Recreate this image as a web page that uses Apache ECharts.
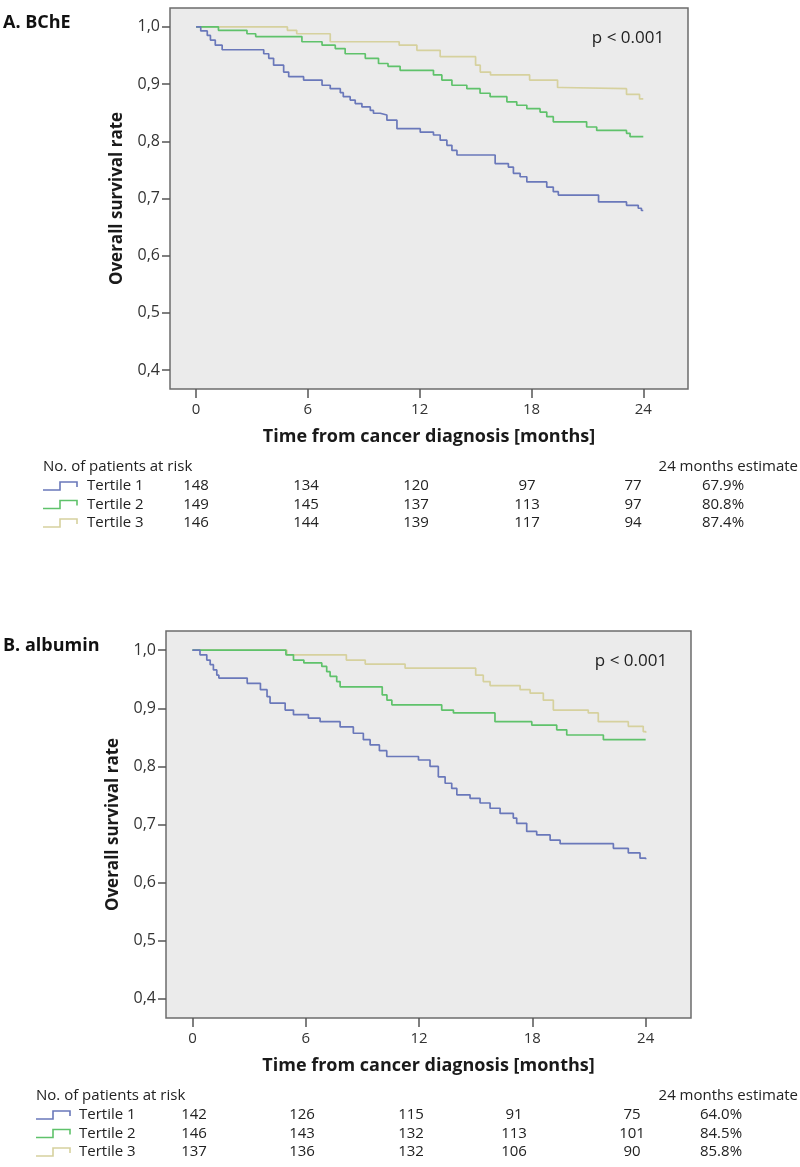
<!DOCTYPE html>
<html><head><meta charset="utf-8">
<script src="https://cdn.jsdelivr.net/npm/echarts@6/dist/echarts.min.js"></script>
<style>html,body{margin:0;padding:0;background:#fff}#c{width:800px;height:1167px}</style>
</head><body><div id="c"></div>
<script>
// ---------- data ----------
const xTicks = [0, 6, 12, 18, 24];
const yTicks = [0.4, 0.5, 0.6, 0.7, 0.8, 0.9, 1.0];
const groups = ['Tertile 1', 'Tertile 2', 'Tertile 3'];
const colors = ['#6a78ba', '#5fc26b', '#d6d19e'];

// Panel A: BChE
const A_t1_time = [0,0.25,0.6,0.77,1.03,1.4,3.63,3.9,4.16,4.7,4.97,5.77,6.76,7.2,7.74,7.9,8.27,8.54,8.9,9.35,9.52,9.88,10.24,10.78,12.03,12.74,13.1,13.46,13.73,14.0,16.05,16.76,17.03,17.39,17.75,18.82,19.17,19.44,21.6,23.1,23.73,23.9,24];
const A_t1_surv = [1,0.993,0.985,0.977,0.968,0.960,0.953,0.945,0.933,0.921,0.913,0.907,0.898,0.892,0.885,0.878,0.872,0.866,0.860,0.854,0.849,0.846,0.837,0.822,0.816,0.811,0.802,0.793,0.784,0.776,0.761,0.755,0.744,0.738,0.729,0.720,0.712,0.706,0.694,0.688,0.683,0.679,0.679];
const A_t2_time = [0,1.2,2.73,3.2,5.68,6.76,7.47,8.0,9.08,9.79,10.3,10.95,12.74,13.19,13.73,14.53,15.24,15.78,16.68,17.21,17.75,18.46,18.82,19.17,20.96,21.5,23.1,23.29,24];
const A_t2_surv = [1,0.994,0.988,0.983,0.974,0.968,0.962,0.953,0.945,0.936,0.931,0.924,0.916,0.907,0.898,0.892,0.884,0.878,0.869,0.863,0.857,0.851,0.843,0.834,0.825,0.819,0.814,0.808,0.808];
const A_t3_time = [0,4.9,5.4,7.2,10.9,11.85,13.1,15.0,15.25,15.8,17.9,19.4,19.6,23.1,23.8,24];
const A_t3_surv = [1,0.994,0.988,0.974,0.968,0.959,0.948,0.933,0.921,0.916,0.907,0.894,0.892,0.882,0.874,0.874];
const A_risk_t1 = [148, 134, 120, 97, 77];
const A_risk_t2 = [149, 145, 137, 113, 97];
const A_risk_t3 = [146, 144, 139, 117, 94];
const A_est = ['67.9%', '80.8%', '87.4%'];

// Panel B: albumin
const B_t1_time = [0,0.4,0.76,0.94,1.11,1.29,1.4,2.9,3.6,3.95,4.11,4.91,5.35,6.14,6.76,7.82,8.52,9.05,9.41,9.9,10.29,11.97,12.58,13.02,13.38,13.73,14.0,14.7,15.23,15.76,16.29,16.99,17.17,17.7,18.23,18.94,19.47,22.29,23.08,23.7,24];
const B_t1_surv = [1,0.992,0.983,0.975,0.966,0.957,0.952,0.943,0.932,0.920,0.909,0.897,0.889,0.883,0.877,0.868,0.857,0.846,0.837,0.827,0.817,0.811,0.800,0.782,0.771,0.762,0.751,0.745,0.737,0.728,0.719,0.711,0.702,0.688,0.682,0.673,0.667,0.659,0.651,0.642,0.640];
const B_t2_time = [0,4.95,5.35,5.9,6.85,7.11,7.29,7.64,7.82,10.05,10.3,10.56,13.2,13.82,16.02,17.97,19.29,19.82,21.76,24];
const B_t2_surv = [1,0.992,0.983,0.978,0.972,0.963,0.955,0.946,0.937,0.923,0.914,0.906,0.897,0.892,0.877,0.871,0.863,0.854,0.846,0.846];
const B_t3_time = [0,5.0,8.15,9.15,11.26,15.0,15.4,15.76,17.35,17.88,18.58,19.11,20.96,21.49,23.08,23.87,24];
const B_t3_surv = [1,0.992,0.983,0.976,0.969,0.957,0.946,0.939,0.932,0.926,0.914,0.897,0.892,0.877,0.869,0.860,0.858];
const B_risk_t1 = [142, 126, 115, 91, 75];
const B_risk_t2 = [146, 143, 132, 113, 101];
const B_risk_t3 = [137, 136, 132, 106, 90];
const B_est = ['64.0%', '84.5%', '85.8%'];

// ---------- layout ----------
const FONT = '"Open Sans", "DejaVu Sans", sans-serif';
const TFONT = '15px ' + FONT;
const panels = [
  { title: 'A. BChE', grid: { left: 170, top: 8, width: 518, height: 381 },
    curves: [[A_t3_time, A_t3_surv, 2], [A_t2_time, A_t2_surv, 1], [A_t1_time, A_t1_surv, 0]],
    risk: [A_risk_t1, A_risk_t2, A_risk_t3], est: A_est,
    cols: [196, 306, 416, 527, 633], estX: 723, labelX: 87, iconX: 43, headerX: 43 },
  { title: 'B. albumin', grid: { left: 166, top: 631, width: 525, height: 387 },
    curves: [[B_t3_time, B_t3_surv, 2], [B_t2_time, B_t2_surv, 1], [B_t1_time, B_t1_surv, 0]],
    risk: [B_risk_t1, B_risk_t2, B_risk_t3], est: B_est,
    cols: [194, 302, 411, 514, 632], estX: 721, labelX: 79, iconX: 36, headerX: 36 }
];

const zip = (t, s) => t.map((v, i) => [v, s[i]]);
const grids = [], xAxes = [], yAxes = [], series = [], graphics = [];

panels.forEach((p, k) => {
  grids.push(Object.assign({ show: true, backgroundColor: '#ebebeb', borderColor: '#6c6c6c', borderWidth: 1.5 }, p.grid));
  xAxes.push({
    type: 'value', gridIndex: k, min: -1.4, max: 26.4, position: 'bottom',
    axisLine: { show: false, onZero: false }, splitLine: { show: false },
    axisTick: { show: true, customValues: xTicks, length: 9, lineStyle: { color: '#555', width: 1.5 } },
    axisLabel: { customValues: xTicks, margin: 13, fontSize: 15, color: '#333', fontFamily: FONT },
    name: 'Time from cancer diagnosis [months]', nameLocation: 'middle', nameGap: 39,
    nameTextStyle: { fontSize: 18, fontWeight: 'bold', color: '#1a1a1a', fontFamily: FONT }
  });
  yAxes.push({
    type: 'value', gridIndex: k, min: 0.367, max: 1.033, position: 'left',
    axisLine: { show: false, onZero: false }, splitLine: { show: false },
    axisTick: { show: true, customValues: yTicks, length: 8, lineStyle: { color: '#555', width: 1.5 } },
    axisLabel: { customValues: yTicks, margin: 10, fontSize: 16, color: '#333', fontFamily: FONT,
      formatter: v => v.toFixed(1).replace('.', ',') },
    name: 'Overall survival rate', nameLocation: 'middle', nameGap: 44,
    nameTextStyle: { fontSize: 17, fontWeight: 'bold', color: '#1a1a1a', fontFamily: FONT }
  });
  p.curves.forEach(([t, s, g]) => {
    series.push({
      type: 'line', name: groups[g], xAxisIndex: k, yAxisIndex: k, step: 'end',
      data: zip(t, s), showSymbol: false, symbol: 'none', silent: true,
      lineStyle: { color: colors[g], width: 1.7 }, z: 3 + (2 - g)
    });
  });

  const g = p.grid;
  const bottom = g.top + g.height;
  graphics.push({ type: 'text', x: 3, y: g.top + 15, style: { text: p.title, font: 'bold 18px ' + FONT, fill: '#111', textAlign: 'left', textVerticalAlign: 'middle' } });
  graphics.push({ type: 'text', x: g.left + g.width - 60, y: g.top + 30, style: { text: 'p < 0.001', font: '17px ' + FONT, fill: '#222', textAlign: 'center', textVerticalAlign: 'middle' } });
  const hy = bottom + 78;
  graphics.push({ type: 'text', x: p.headerX, y: hy, style: { text: 'No. of patients at risk', font: TFONT, fill: '#222', textAlign: 'left', textVerticalAlign: 'middle' } });
  graphics.push({ type: 'text', x: 798, y: hy, style: { text: '24 months estimate', font: TFONT, fill: '#222', textAlign: 'right', textVerticalAlign: 'middle' } });
  for (let r = 0; r < 3; r++) {
    const ry = hy + 19 + r * 18.5;
    const ix = p.iconX;
    graphics.push({ type: 'polyline', shape: { points: [[ix, ry + 4], [ix + 17, ry + 4], [ix + 17, ry - 4], [ix + 34, ry - 4], [ix + 34, ry + 1]] },
      style: { stroke: colors[r], lineWidth: 1.6, fill: null } });
    graphics.push({ type: 'text', x: p.labelX, y: ry, style: { text: groups[r], font: TFONT, fill: '#222', textAlign: 'left', textVerticalAlign: 'middle' } });
    p.risk[r].forEach((n, c) => {
      graphics.push({ type: 'text', x: p.cols[c], y: ry, style: { text: String(n), font: TFONT, fill: '#222', textAlign: 'center', textVerticalAlign: 'middle' } });
    });
    graphics.push({ type: 'text', x: p.estX, y: ry, style: { text: p.est[r], font: TFONT, fill: '#222', textAlign: 'center', textVerticalAlign: 'middle' } });
  }
});

const chart = echarts.init(document.getElementById('c'), null, { renderer: 'canvas' });
chart.setOption({
  animation: false,
  backgroundColor: '#ffffff',
  grid: grids, xAxis: xAxes, yAxis: yAxes, series: series,
  graphic: { elements: graphics }
});
</script></body></html>
